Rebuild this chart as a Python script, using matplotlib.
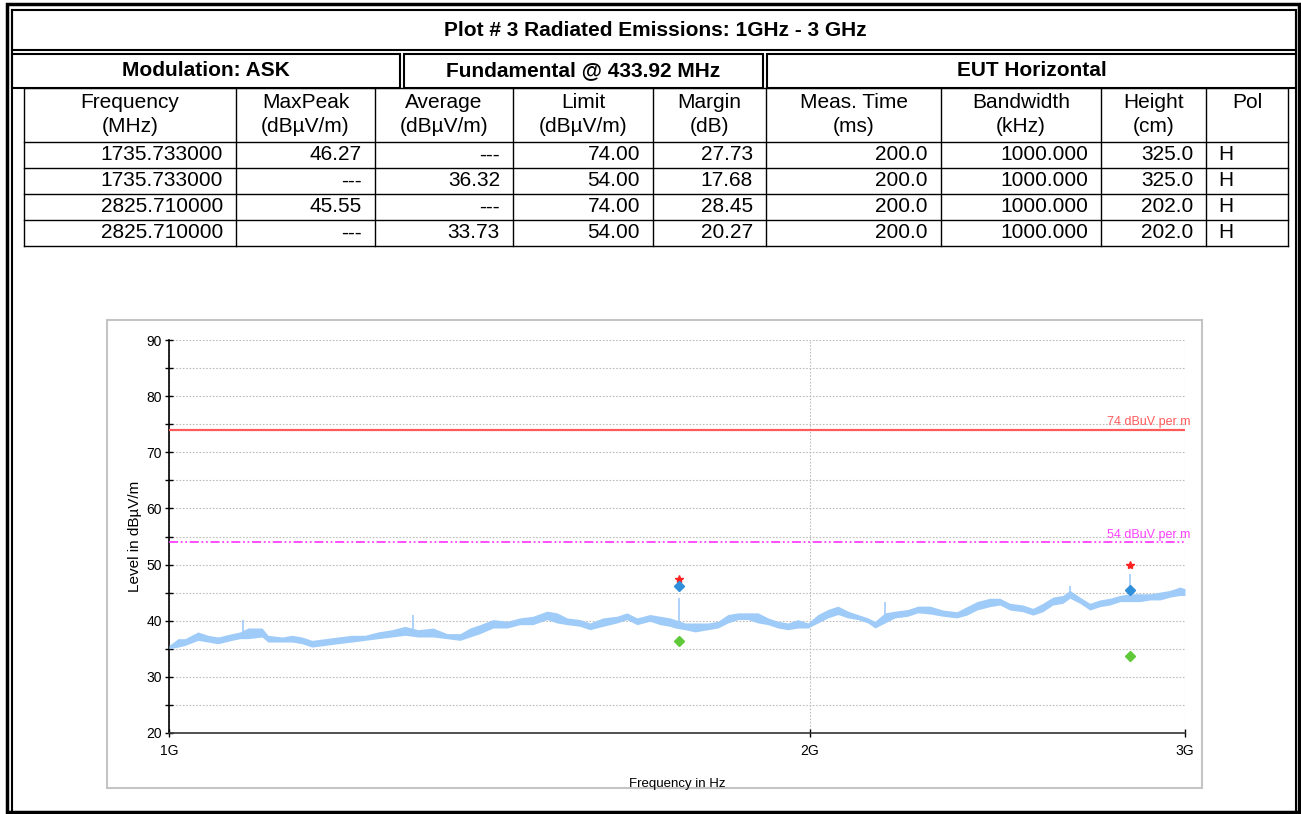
import numpy as np
import matplotlib
matplotlib.use("Agg")
import matplotlib.pyplot as plt
from matplotlib.patches import Rectangle
from matplotlib.transforms import blended_transform_factory

plt.rcParams["font.family"] = ["Liberation Sans", "DejaVu Sans"]

# ---- header / table content ----
title = "Plot # 3 Radiated Emissions: 1GHz - 3 GHz"
subheaders = ["Modulation: ASK", "Fundamental @ 433.92 MHz", "EUT Horizontal"]
col_headers = [
    ("Frequency", "(MHz)"),
    ("MaxPeak", "(dBµV/m)"),
    ("Average", "(dBµV/m)"),
    ("Limit", "(dBµV/m)"),
    ("Margin", "(dB)"),
    ("Meas. Time", "(ms)"),
    ("Bandwidth", "(kHz)"),
    ("Height", "(cm)"),
    ("Pol", ""),
]
tbl_freq = [1735.733, 1735.733, 2825.71, 2825.71]
tbl_maxpeak = [46.27, None, 45.55, None]
tbl_average = [None, 36.32, None, 33.73]
tbl_limit = [74.00, 54.00, 74.00, 54.00]
tbl_margin = [27.73, 17.68, 28.45, 20.27]
tbl_meas_time = [200.0, 200.0, 200.0, 200.0]
tbl_bandwidth = [1000.0, 1000.0, 1000.0, 1000.0]
tbl_height = [325.0, 325.0, 202.0, 202.0]
tbl_pol = ["H", "H", "H", "H"]

# ---- spectrum trace (MHz, dBuV/m) ----
trace_freq = [
    1000, 1009.8, 1017.5, 1031.8, 1043.0, 1054.4, 1070.5, 1079.8, 1089.2, 1105.8,
    1113.0, 1130.0, 1142.3, 1154.7, 1167.2, 1183.8, 1200.5, 1218.8, 1236.1, 1253.6,
    1272.7, 1290.8, 1309.0, 1330.4, 1350.7, 1369.9, 1384.7, 1399.8, 1419.6, 1441.3,
    1461.6, 1482.3, 1504.9, 1521.3, 1537.8, 1559.6, 1576.5, 1598.8, 1623.2, 1640.8,
    1658.7, 1682.2, 1700.5, 1719.0, 1728.3, 1747.0, 1766.0, 1791.0, 1810.5, 1830.1,
    1850.0, 1870.1, 1890.5, 1911.0, 1931.8, 1952.8, 1974.0, 1995.5, 2017.2, 2039.1,
    2061.2, 2083.7, 2106.3, 2129.2, 2145.4, 2168.7, 2192.3, 2223.3, 2247.4, 2276.8,
    2308.9, 2344.1, 2369.6, 2395.3, 2429.3, 2455.7, 2482.4, 2517.5, 2544.9, 2572.5,
    2600.5, 2628.8, 2648.8, 2677.6, 2706.7, 2736.1, 2765.9, 2796.0, 2826.7, 2857.5,
    2888.6, 2920.0, 2951.8, 2983.9, 3000,
]
trace_hi = [
    35.6, 36.8, 36.8, 38.0, 37.4, 37.1, 37.7, 38.0, 38.7, 38.7,
    37.4, 37.1, 37.4, 37.1, 36.5, 36.8, 37.1, 37.4, 37.4, 38.0,
    38.4, 39.0, 38.4, 38.7, 37.7, 37.7, 38.7, 39.3, 40.2, 39.9,
    40.5, 40.8, 41.7, 41.4, 40.5, 40.2, 39.6, 40.5, 40.8, 41.4,
    40.5, 41.1, 40.8, 40.5, 40.2, 39.6, 39.6, 39.6, 39.9, 41.1,
    41.4, 41.4, 41.4, 40.5, 39.9, 39.6, 40.2, 39.6, 41.1, 42.0,
    42.6, 41.7, 41.1, 40.5, 39.9, 41.4, 41.7, 42.0, 42.6, 42.6,
    41.9, 41.6, 42.5, 43.4, 44.0, 44.0, 43.1, 42.8, 42.2, 43.1,
    44.2, 44.5, 45.4, 44.2, 43.1, 43.7, 44.0, 44.5, 44.8, 44.8,
    44.8, 45.1, 45.4, 46.0, 45.7,
]
trace_lo = [
    35.0, 35.3, 35.6, 36.5, 36.2, 35.9, 36.5, 36.8, 36.8, 37.1,
    36.2, 36.2, 36.2, 35.9, 35.3, 35.6, 35.9, 36.2, 36.5, 36.8,
    37.1, 37.4, 37.1, 37.1, 36.8, 36.5, 37.1, 37.7, 38.7, 38.7,
    39.3, 39.3, 40.2, 39.6, 39.3, 39.0, 38.4, 39.0, 39.6, 40.2,
    39.3, 39.9, 39.3, 39.0, 38.7, 38.4, 38.0, 38.4, 38.7, 39.6,
    40.2, 40.2, 39.6, 39.3, 38.7, 38.4, 38.7, 38.7, 39.6, 40.5,
    41.1, 40.5, 40.2, 39.6, 38.7, 39.6, 40.5, 40.8, 41.4, 41.2,
    40.8, 40.5, 41.0, 41.9, 42.5, 42.8, 41.9, 41.6, 41.0, 41.6,
    42.8, 43.1, 44.0, 43.1, 41.9, 42.5, 42.8, 43.4, 43.4, 43.4,
    43.7, 43.7, 44.2, 44.5, 44.5,
]
spike_freq = [1083.3, 1302.0, 1735.733, 2168.7, 2648.8, 2825.71]
spike_top = [40.2, 41.0, 44.0, 43.4, 46.2, 48.3]

# ---- final measurement markers ----
peak_freq = [1735.733, 2825.71]
peak_star = [47.4, 50.0]
maxpeak_val = [46.27, 45.55]
average_val = [36.32, 33.73]
limit_peak = 74
limit_avg = 54

W, H = 1301, 814
fig = plt.figure(figsize=(W / 100, H / 100), dpi=100)
fig.patch.set_facecolor("white")

# page frame in pixel coordinates
page = fig.add_axes([0, 0, 1, 1])
page.set_xlim(0, W)
page.set_ylim(H, 0)
page.axis("off")

def box(x0, y0, x1, y1, lw=1.5):
    page.add_patch(Rectangle((x0, y0), x1 - x0, y1 - y0, fill=False,
                             edgecolor="black", linewidth=lw))

box(7, 4, 1299, 812, lw=2.5)
page.plot([12, 12], [10, 812], color="black", lw=1.5)
page.plot([1296, 1296], [10, 812], color="black", lw=1.5)
box(12, 10, 1296, 50)
page.text(655, 30, title, ha="center", va="center", fontsize=15, fontweight="bold")

sub_cells = [(12, 400), (404, 763), (767, 1296)]
for (x0, x1), label in zip(sub_cells, subheaders):
    box(x0, 54, x1, 88)
    page.text((x0 + x1) / 2, 71, label, ha="center", va="center",
              fontsize=15, fontweight="bold")

col_x = [24, 236, 375, 513, 653, 766, 941, 1101, 1206, 1288]
row_y = [88, 142, 168, 194, 220, 246]
for x in col_x:
    page.plot([x, x], [row_y[0], row_y[-1]], color="black", lw=1)
for y in row_y:
    page.plot([col_x[0], col_x[-1]], [y, y], color="black", lw=1)

for i, (h1, h2) in enumerate(col_headers):
    cx = (col_x[i] + col_x[i + 1]) / 2
    page.text(cx, 103, h1, ha="center", va="center", fontsize=15)
    if h2:
        page.text(cx, 127, h2, ha="center", va="center", fontsize=15)

def fmt(v, nd):
    return "---" if v is None else f"{v:.{nd}f}"

columns = [
    [fmt(v, 6) for v in tbl_freq],
    [fmt(v, 2) for v in tbl_maxpeak],
    [fmt(v, 2) for v in tbl_average],
    [fmt(v, 2) for v in tbl_limit],
    [fmt(v, 2) for v in tbl_margin],
    [fmt(v, 1) for v in tbl_meas_time],
    [fmt(v, 3) for v in tbl_bandwidth],
    [fmt(v, 1) for v in tbl_height],
]
for r in range(len(tbl_freq)):
    cy = (row_y[r + 1] + row_y[r + 2]) / 2
    for c, col in enumerate(columns):
        page.text(col_x[c + 1] - 13, cy, col[r], ha="right", va="center", fontsize=15)
    page.text(col_x[8] + 12, cy, tbl_pol[r], ha="left", va="center", fontsize=15)

# chart panel
page.add_patch(Rectangle((107, 320), 1095, 468, facecolor="white",
                         edgecolor="#C4C4C4", linewidth=1.5))

ax_l, ax_r, ax_t, ax_b = 169, 1185, 340, 733
ax = fig.add_axes([ax_l / W, 1 - ax_b / H, (ax_r - ax_l) / W, (ax_b - ax_t) / H])
ax.set_facecolor("none")

trace_color = "#9FCBF8"
f_hz = np.array(trace_freq) * 1e6
ax.fill_between(f_hz, trace_lo, trace_hi, color=trace_color, linewidth=0, zorder=3)
sp_hz = np.array(spike_freq) * 1e6
sp_base = np.interp(sp_hz, f_hz, trace_lo)
ax.vlines(sp_hz, sp_base, spike_top, color=trace_color, lw=1.2, zorder=3)

ax.axhline(limit_peak, color="#FF5A5A", lw=1.6, zorder=4)
ax.axhline(limit_avg, color="#FF40FF", lw=1.3, zorder=4,
           linestyle=(0, (5, 1.5, 1, 1.5, 1, 1.5)))
trans = blended_transform_factory(ax.transAxes, ax.transData)
ax.annotate("74 dBuV per m", xy=(1, limit_peak), xycoords=trans,
            xytext=(4, 1), textcoords="offset points", ha="right", va="bottom",
            fontsize=9, color="#FF5A5A")
ax.annotate("54 dBuV per m", xy=(1, limit_avg), xycoords=trans,
            xytext=(4, 1), textcoords="offset points", ha="right", va="bottom",
            fontsize=9, color="#FF40FF")

pk_hz = np.array(peak_freq) * 1e6
ax.plot(pk_hz, peak_star, linestyle="none", marker="*", markersize=6,
        color="#FF2020", zorder=5, clip_on=False)
ax.plot(pk_hz, maxpeak_val, linestyle="none", marker="D", markersize=5.5,
        color="#2F8FDA", zorder=6)
ax.plot(pk_hz, average_val, linestyle="none", marker="D", markersize=5.5,
        color="#5FC93A", zorder=6)

ax.set_xscale("log")
ax.set_xlim(1e9, 3e9)
ax.set_ylim(20, 90)
ax.set_xticks([1e9, 2e9, 3e9])
ax.set_xticklabels(["1G", "2G", "3G"])
ax.xaxis.set_minor_locator(matplotlib.ticker.NullLocator())
ax.set_yticks(np.arange(20, 91, 10))
ax.set_yticks(np.arange(25, 90, 10), minor=True)

grid_kw = dict(color="#BDBDBD", linestyle=(0, (1.5, 1.5)), linewidth=0.8)
ax.grid(True, which="major", axis="both", **grid_kw)
ax.grid(True, which="minor", axis="y", **grid_kw)
ax.set_axisbelow(True)

for s in ("top", "right"):
    ax.spines[s].set_visible(False)
ax.spines["left"].set_linewidth(1.2)
ax.spines["bottom"].set_linewidth(1.2)
ax.spines["bottom"].set_color("#333333")
ax.tick_params(which="both", direction="inout", length=6, width=1, labelsize=10)
ax.tick_params(axis="x", pad=5)
ax.tick_params(axis="y", pad=2)

ax.set_xlabel("Frequency in Hz", fontsize=9.5, labelpad=14)
ax.set_ylabel("Level in dBµV/m", fontsize=11, labelpad=3)

fig.savefig("out.png", dpi=100)
